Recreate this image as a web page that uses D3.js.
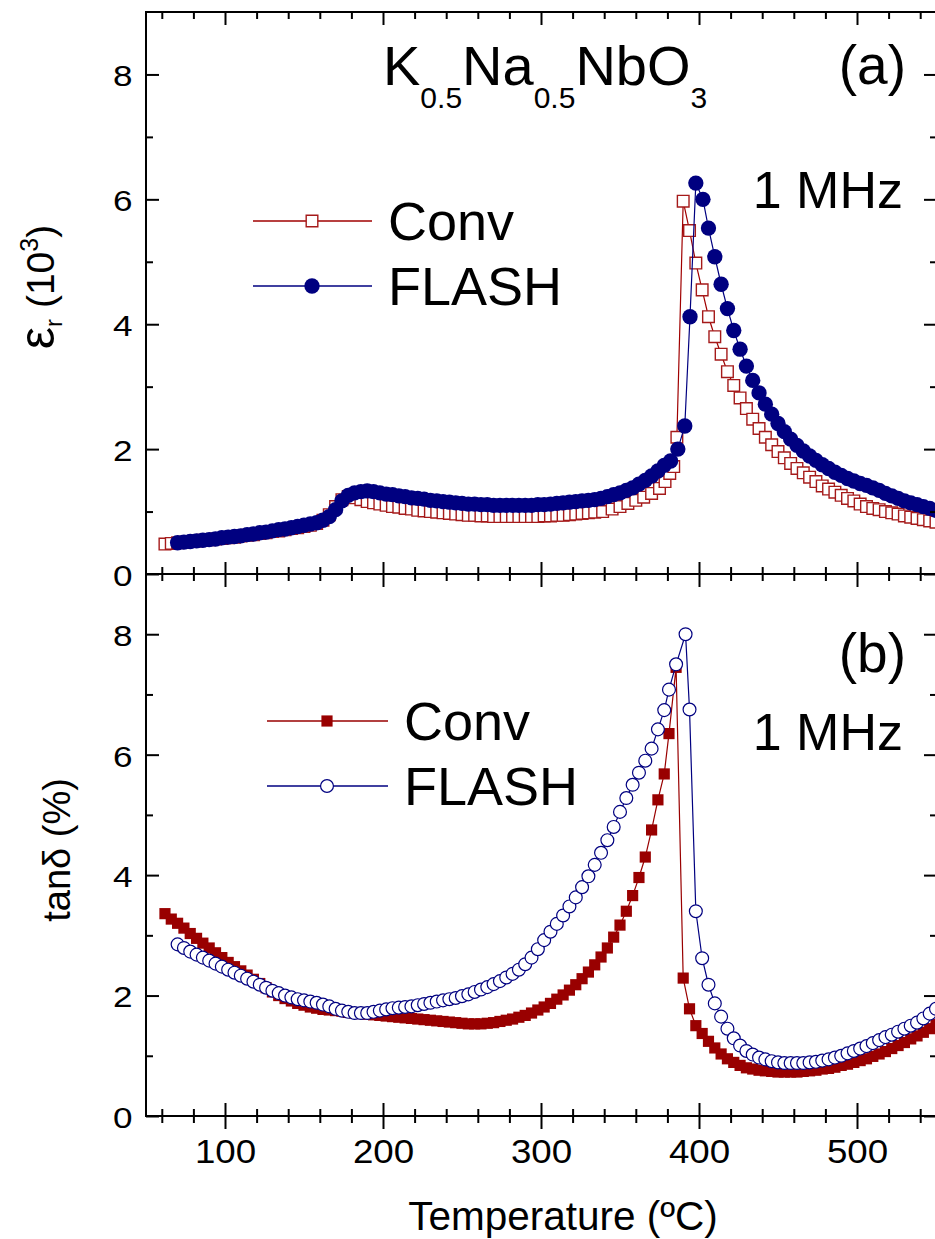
<!DOCTYPE html>
<html><head><meta charset="utf-8">
<script src="https://cdn.jsdelivr.net/npm/d3@7"></script>
<style>
body{margin:0;background:#fff}
svg{display:block}
text{font-family:"Liberation Sans",Arial,Helvetica,sans-serif;fill:#000}
</style>
</head><body>
<svg id="c" width="935" height="1239"></svg>
<script>
// ---------- data ----------
const seriesNames = ["Conv", "FLASH"];
const panelLabels = ["(a)", "(b)"];
const freqLabel = "1 MHz";
const xTickLabels = [100, 200, 300, 400, 500];
const yTickLabels = [0, 2, 4, 6, 8];

// (a) permittivity, Conv
const tempConvEps = [62,66,70,74,78,82,86,90,94,98,102,106,110,114,118,122,126,130,134,138,142,146,150,154,158,162,166,170,174,178,182,186,190,194,198,202,206,210,214,218,222,226,230,234,238,242,246,250,254,258,262,266,270,274,278,282,286,290,294,298,302,306,310,314,318,322,326,330,334,339,345,350,355,360,365,370,375,378.5,381.5,384,386,390,394,398,402,406,410,414,418,422,426,430,434,438,442,446,450,454,458,462,466,470,474,478,482,486,490,494,498,502,506,510,514,518,522,526,530,534,538,542,546,550];
const epsConv = [0.48,0.49,0.50,0.51,0.52,0.53,0.54,0.55,0.56,0.57,0.58,0.59,0.61,0.62,0.63,0.65,0.66,0.68,0.69,0.71,0.73,0.74,0.76,0.78,0.81,0.86,0.95,1.08,1.19,1.24,1.22,1.19,1.16,1.14,1.12,1.10,1.08,1.07,1.05,1.04,1.02,1.01,1.00,0.99,0.98,0.97,0.96,0.95,0.94,0.94,0.93,0.93,0.92,0.92,0.92,0.92,0.92,0.92,0.92,0.92,0.93,0.93,0.94,0.94,0.95,0.96,0.97,0.98,0.99,1.00,1.04,1.08,1.13,1.18,1.23,1.29,1.37,1.48,1.61,1.72,2.19,5.97,5.50,4.98,4.55,4.12,3.80,3.52,3.24,3.02,2.82,2.65,2.48,2.33,2.19,2.07,1.96,1.86,1.77,1.69,1.62,1.55,1.48,1.41,1.36,1.31,1.26,1.21,1.17,1.12,1.08,1.05,1.03,1.00,0.98,0.96,0.93,0.91,0.89,0.87,0.85,0.83];

// (a) permittivity, FLASH
const tempFlashEps = [70,74,78,82,86,90,94,98,102,106,110,114,118,122,126,130,134,138,142,146,150,154,158,162,166,170,174,178,182,186,190,194,198,202,206,210,214,218,222,226,230,234,238,242,246,250,254,258,262,266,270,274,278,282,286,290,294,298,302,306,310,314,318,322,326,330,334,338,342,346,350,354,358,362,366,370,374,378,382,386.6,391,394.3,398,402.5,406,410,414,418,422,426,430,434,438,442,446,450,454,458,462,466,470,474,478,482,486,490,494,498,502,506,510,514,518,522,526,530,534,538,542,546,550];
const epsFlash = [0.50,0.51,0.52,0.53,0.54,0.55,0.56,0.58,0.59,0.60,0.61,0.63,0.64,0.66,0.67,0.69,0.71,0.72,0.74,0.76,0.78,0.80,0.82,0.86,0.92,1.03,1.17,1.26,1.30,1.32,1.33,1.32,1.30,1.28,1.27,1.25,1.24,1.22,1.21,1.20,1.18,1.17,1.16,1.15,1.14,1.13,1.12,1.12,1.11,1.11,1.10,1.10,1.10,1.10,1.10,1.10,1.10,1.11,1.11,1.12,1.13,1.14,1.15,1.16,1.17,1.18,1.19,1.21,1.24,1.27,1.30,1.34,1.38,1.44,1.50,1.57,1.65,1.74,1.81,2.00,2.37,4.12,6.26,6.00,5.54,5.08,4.64,4.25,3.90,3.60,3.33,3.10,2.90,2.72,2.56,2.41,2.28,2.16,2.06,1.97,1.89,1.82,1.75,1.69,1.63,1.58,1.53,1.49,1.45,1.42,1.38,1.34,1.29,1.25,1.21,1.17,1.14,1.11,1.08,1.05,1.02];

// (b) loss tangent, Conv
const tempConvTan = [62,66,70,74,78,82,86,90,94,98,102,106,110,114,118,122,126,130,134,138,142,146,150,154,158,162,166,170,174,178,182,186,190,194,198,202,206,210,214,218,222,226,230,234,238,242,246,250,254,258,262,266,270,274,278,282,286,290,294,298,302,306,310,314,318,322,326,330,334,338,342,346,350,354,358,362,366,370,374,378,381,385.5,390,394,398,402,406,410,414,418,422,426,430,434,438,442,446,450,454,458,462,466,470,474,478,482,486,490,494,498,502,506,510,514,518,522,526,530,534,538,542,546,550];
const tanConv = [3.36,3.27,3.20,3.12,3.03,2.95,2.87,2.79,2.71,2.63,2.55,2.48,2.41,2.34,2.27,2.20,2.13,2.06,2.00,1.95,1.91,1.87,1.84,1.81,1.79,1.77,1.76,1.75,1.74,1.72,1.71,1.70,1.69,1.68,1.67,1.66,1.65,1.64,1.63,1.62,1.61,1.60,1.59,1.58,1.57,1.56,1.55,1.54,1.53,1.53,1.53,1.54,1.55,1.57,1.59,1.61,1.64,1.67,1.71,1.76,1.81,1.87,1.94,2.01,2.09,2.18,2.28,2.39,2.51,2.64,2.79,2.97,3.17,3.40,3.66,3.96,4.30,4.75,5.25,5.68,6.35,7.45,2.29,1.78,1.50,1.37,1.24,1.13,1.03,0.95,0.89,0.84,0.80,0.78,0.76,0.75,0.74,0.73,0.73,0.73,0.73,0.74,0.75,0.76,0.78,0.79,0.81,0.84,0.86,0.89,0.92,0.95,0.99,1.03,1.07,1.12,1.17,1.22,1.28,1.33,1.39,1.45,1.52];

// (b) loss tangent, FLASH
const tempFlashTan = [70,74,78,82,86,90,94,98,102,106,110,114,118,122,126,130,134,138,142,146,150,154,158,162,166,170,174,178,182,186,190,194,198,202,206,210,214,218,222,226,230,234,238,242,246,250,254,258,262,266,270,274,278,282,286,290,294,298,302,306,310,314,318,322,326,330,334,338,342,346,350,354,358,362,366,370,374,378,381,385.5,391.5,394,398,402,406,410,414,418,422,426,430,434,438,442,446,450,454,458,462,466,470,474,478,482,486,490,494,498,502,506,510,514,518,522,526,530,534,538,542,546,550];
const tanFlash = [2.85,2.79,2.73,2.68,2.63,2.58,2.53,2.48,2.43,2.38,2.33,2.28,2.23,2.18,2.13,2.08,2.04,2.00,1.97,1.94,1.92,1.90,1.88,1.85,1.82,1.78,1.75,1.73,1.71,1.71,1.71,1.73,1.75,1.77,1.79,1.80,1.81,1.82,1.84,1.86,1.88,1.90,1.92,1.94,1.96,1.99,2.02,2.06,2.10,2.14,2.19,2.24,2.30,2.36,2.43,2.52,2.63,2.77,2.92,3.06,3.19,3.33,3.48,3.63,3.80,3.98,4.17,4.37,4.58,4.80,5.05,5.28,5.50,5.70,5.90,6.10,6.42,6.74,7.08,7.50,8.00,6.75,3.40,2.62,2.18,1.87,1.65,1.45,1.29,1.17,1.08,1.02,0.97,0.94,0.91,0.89,0.88,0.88,0.88,0.88,0.89,0.90,0.92,0.94,0.97,1.00,1.04,1.08,1.12,1.16,1.21,1.26,1.31,1.35,1.40,1.45,1.50,1.55,1.62,1.70,1.78];

// ---------- drawing ----------
const svg = d3.select("#c");
const RED = "#A00000", DARKRED = "#990000", NAVY = "#000080";

const x = d3.scaleLinear().domain([50, 550]).range([146, 936]);
const yA = d3.scaleLinear().domain([0, 9]).range([574, 12]);
const yB = d3.scaleLinear().domain([0, 9]).range([1116, 574]);

const zip = (ts, vs) => ts.map((t, i) => ({t: t, v: vs[i]}));

const defs = svg.append("defs");
defs.append("clipPath").attr("id", "clipA").append("rect")
  .attr("x", x(50)).attr("y", yA(9)).attr("width", x(550) - x(50)).attr("height", yA(0) - yA(9));
defs.append("clipPath").attr("id", "clipB").append("rect")
  .attr("x", x(50)).attr("y", yB(9)).attr("width", x(550) - x(50)).attr("height", yB(0) - yB(9));

function drawSeries(g, data, y, o) {
  g.append("path").datum(data)
    .attr("d", d3.line().x(d => x(d.t)).y(d => y(d.v)))
    .attr("fill", "none").attr("stroke", o.line).attr("stroke-width", 1.2);
  g.selectAll(null).data(data).join("path")
    .attr("transform", d => `translate(${x(d.t)},${y(d.v)})`)
    .attr("d", d3.symbol(o.symbol, o.size)())
    .attr("fill", o.fill).attr("stroke", o.stroke).attr("stroke-width", o.sw);
}

const gA = svg.append("g").attr("clip-path", "url(#clipA)");
drawSeries(gA, zip(tempConvEps, epsConv), yA,
  {line: RED, symbol: d3.symbolSquare, size: 135, fill: "#fff", stroke: "#A51A1A", sw: 1.4});
drawSeries(gA, zip(tempFlashEps, epsFlash), yA,
  {line: NAVY, symbol: d3.symbolCircle, size: 185, fill: NAVY, stroke: "none", sw: 0});

const gB = svg.append("g").attr("clip-path", "url(#clipB)");
drawSeries(gB, zip(tempConvTan, tanConv), yB,
  {line: DARKRED, symbol: d3.symbolSquare, size: 125, fill: DARKRED, stroke: "none", sw: 0});
drawSeries(gB, zip(tempFlashTan, tanFlash), yB,
  {line: NAVY, symbol: d3.symbolCircle, size: 130, fill: "#fff", stroke: NAVY, sw: 1.2});

// ---------- axes ----------
const xMinor = d3.range(60, 560, 20).filter(v => v % 100 !== 0);
const yMinor = [1, 3, 5, 7];

function ticks(gen, scale, vals, size, tx, ty) {
  const g = svg.append("g").attr("transform", `translate(${tx},${ty})`)
    .call(gen(scale).tickValues(vals).tickSize(size).tickSizeOuter(0).tickFormat(""));
  g.select(".domain").remove();
  g.selectAll("line").attr("stroke", "#000").attr("stroke-width", 2);
  return g;
}
// top edge (inward)
ticks(d3.axisBottom, x, xTickLabels, 13, 0, yA(9));
ticks(d3.axisBottom, x, xMinor, 7, 0, yA(9));
// middle (both)
ticks(d3.axisTop, x, xTickLabels, 12, 0, yA(0));
ticks(d3.axisTop, x, xMinor, 7, 0, yA(0));
ticks(d3.axisBottom, x, xTickLabels, 13, 0, yA(0));
ticks(d3.axisBottom, x, xMinor, 7, 0, yA(0));
// bottom (crossing)
ticks(d3.axisTop, x, xTickLabels, 13, 0, yB(0));
ticks(d3.axisTop, x, xMinor, 7, 0, yB(0));
ticks(d3.axisBottom, x, xTickLabels, 13, 0, yB(0));
ticks(d3.axisBottom, x, xMinor, 7, 0, yB(0));
// left & right
[yA, yB].forEach(y => {
  ticks(d3.axisRight, y, yTickLabels, 13, x(50), 0);
  ticks(d3.axisRight, y, yMinor, 7, x(50), 0);
  ticks(d3.axisLeft, y, yTickLabels, 12, x(550), 0);
  ticks(d3.axisLeft, y, yMinor, 6, x(550), 0);
});

// frame
const frame = svg.append("g").attr("stroke", "#000").attr("stroke-width", 2).attr("stroke-linecap", "square");
frame.append("line").attr("x1", x(50)).attr("x2", x(50)).attr("y1", yA(9)).attr("y2", yB(0));
frame.append("line").attr("x1", x(550)).attr("x2", x(550)).attr("y1", yA(9)).attr("y2", yB(0));
[yA(9), yA(0), yB(0)].forEach(yy =>
  frame.append("line").attr("x1", x(50)).attr("x2", x(550)).attr("y1", yy).attr("y2", yy));

// tick labels (slightly wide face as in the original)
const YS = 1.17, XS = 1.13;
[yA, yB].forEach(y => {
  const g = svg.append("g").attr("transform", `translate(${x(50)},0)`)
    .call(d3.axisLeft(y).tickValues(yTickLabels).tickSize(0).tickPadding(0));
  g.select(".domain").remove();
  g.selectAll("text").attr("font-size", 30).attr("dy", "0.38em").attr("x", -13.5 / YS)
    .attr("transform", `scale(${YS},1)`)
    .attr("font-family", '"Liberation Sans",Arial,sans-serif').attr("fill", "#000");
});
{
  const g = svg.append("g").attr("transform", `translate(0,${yB(0)})`)
    .call(d3.axisBottom(x).tickValues(xTickLabels).tickSize(0));
  g.select(".domain").remove();
  g.selectAll("text").attr("y", 47).attr("dy", 0).attr("font-size", 32.5)
    .attr("transform", `scale(${XS},1)`)
    .attr("font-family", '"Liberation Sans",Arial,sans-serif').attr("fill", "#000");
}

// axis titles
svg.append("text").attr("x", 563).attr("y", 1230).attr("text-anchor", "middle")
  .attr("font-size", 40.5).text("Temperature (ºC)");

{
  const t = svg.append("text").attr("transform", "translate(54,287) rotate(-90)")
    .attr("text-anchor", "middle").attr("font-size", 39);
  t.append("tspan").attr("font-size", 50).text("ε");
  t.append("tspan").attr("font-size", 24).attr("dy", 8).text("r");
  t.append("tspan").attr("dy", -8).text(" (10");
  t.append("tspan").attr("font-size", 25).attr("dy", -16).text("3");
  t.append("tspan").attr("dy", 16).text(")");
}
svg.append("text").attr("transform", "translate(70,850) rotate(-90)")
  .attr("text-anchor", "middle").attr("font-size", 38).text("tanδ (%)");

// compound title
{
  const t = svg.append("text").attr("x", 383).attr("y", 85).attr("font-size", 56);
  t.append("tspan").text("K");
  t.append("tspan").attr("font-size", 30).attr("dy", 23).text("0.5");
  t.append("tspan").attr("dy", -23).text("Na");
  t.append("tspan").attr("font-size", 30).attr("dy", 23).text("0.5");
  t.append("tspan").attr("dy", -23).text("NbO");
  t.append("tspan").attr("font-size", 30).attr("dy", 23).text("3");
}

// panel labels & frequency
svg.append("text").attr("x", 906).attr("y", 84).attr("text-anchor", "end").attr("font-size", 55).text(panelLabels[0]);
svg.append("text").attr("x", 906).attr("y", 672).attr("text-anchor", "end").attr("font-size", 55).text(panelLabels[1]);
svg.append("text").attr("x", 903).attr("y", 208).attr("text-anchor", "end").attr("font-size", 52).text(freqLabel);
svg.append("text").attr("x", 903).attr("y", 750).attr("text-anchor", "end").attr("font-size", 52).text(freqLabel);

// legends
function legend(x0, x1, xm, yy, name, color, sym, size, fill, stroke, sw) {
  svg.append("line").attr("x1", x0).attr("x2", x1).attr("y1", yy).attr("y2", yy)
    .attr("stroke", color).attr("stroke-width", 1.3);
  svg.append("path").attr("transform", `translate(${xm},${yy})`)
    .attr("d", d3.symbol(sym, size)()).attr("fill", fill).attr("stroke", stroke).attr("stroke-width", sw);
  svg.append("text").attr("x", x1 + 16).attr("y", yy + 19).attr("font-size", 54).text(name);
}
legend(253, 372, 312, 221, seriesNames[0], RED, d3.symbolSquare, 135, "#fff", "#A51A1A", 1.4);
legend(253, 372, 312, 286, seriesNames[1], NAVY, d3.symbolCircle, 185, NAVY, "none", 0);
legend(267, 388, 327, 721, seriesNames[0], DARKRED, d3.symbolSquare, 125, DARKRED, "none", 0);
legend(267, 388, 327, 786, seriesNames[1], NAVY, d3.symbolCircle, 130, "#fff", NAVY, 1.2);
</script>
</body></html>
